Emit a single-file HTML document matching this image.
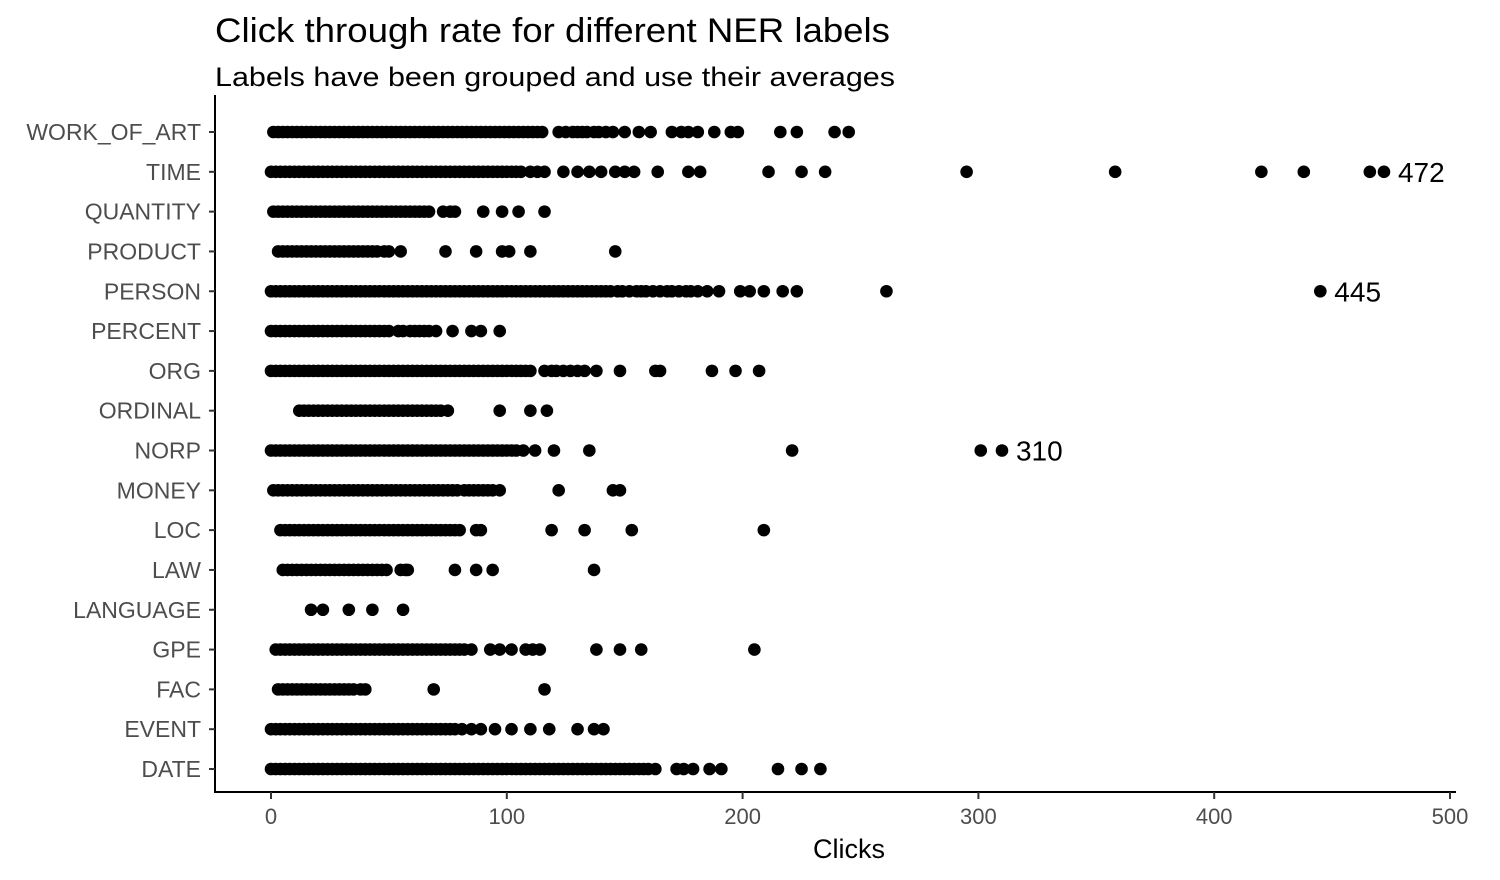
<!DOCTYPE html>
<html><head><meta charset="utf-8"><style>
body{margin:0;background:#fff;}
svg{display:block;font-family:"Liberation Sans",Arial,sans-serif;}
</style></head><body>
<svg id="chart" width="1500" height="880">
<text x="215" y="42" font-size="34" textLength="675" lengthAdjust="spacingAndGlyphs" fill="#000">Click through rate for different NER labels</text>
<text x="215" y="86" font-size="27" textLength="680" lengthAdjust="spacingAndGlyphs" fill="#000">Labels have been grouped and use their averages</text>
<line x1="215" y1="95" x2="215" y2="793" stroke="#000" stroke-width="2"/>
<line x1="214" y1="792" x2="1456" y2="792" stroke="#000" stroke-width="2"/>
<text x="849" y="858" font-size="27" text-anchor="middle">Clicks</text>
<g id="axes"></g><g id="points"></g>
</svg>
<script>
const categories=["WORK_OF_ART","TIME","QUANTITY","PRODUCT","PERSON","PERCENT","ORG","ORDINAL","NORP","MONEY","LOC","LAW","LANGUAGE","GPE","FAC","EVENT","DATE"];
const xTicks=[0,100,200,300,400,500];
const vWORK=[1,3,5,7,9,11,13,15,17,19,21,23,25,27,29,31,33,35,37,39,41,43,45,47,49,51,53,55,57,59,61,63,65,67,69,71,73,75,77,79,81,83,85,87,89,91,93,95,97,99,101,103,105,107,109,111,113,115,122,125,128,130,132,134,137,139,142,145,150,156,161,170,174,177,181,188,195,198,216,223,239,245];
const vTIME=[0,2,4,6,8,10,12,14,16,18,20,22,24,26,28,30,32,34,36,38,40,42,44,46,48,50,52,54,56,58,60,62,64,66,68,70,72,74,76,78,80,82,84,86,88,90,92,94,96,98,100,102,104,106,110,113,116,124,130,135,140,146,150,154,164,177,182,211,225,235,295,358,420,438,466,472];
const vQUANTITY=[1,3,5,7,9,11,13,15,17,19,21,23,25,27,29,31,33,35,37,39,41,43,45,47,49,51,53,55,57,59,61,63,65,67,73,76,78,90,98,105,116];
const vPRODUCT=[3,5,7,9,11,13,15,17,19,21,23,25,27,29,31,33,35,37,39,41,43,45,48,50,55,74,87,98,101,110,146];
const vPERSON=[0,2,4,6,8,10,12,14,16,18,20,22,24,26,28,30,32,34,36,38,40,42,44,46,48,50,52,54,56,58,60,62,64,66,68,70,72,74,76,78,80,82,84,86,88,90,92,94,96,98,100,102,104,106,108,110,112,114,116,118,120,122,124,126,128,130,132,134,136,138,140,142,144,147,149,152,155,157,159,162,165,168,170,173,176,178,181,185,190,199,203,209,217,223,261,445];
const vPERCENT=[0,2,4,6,8,10,12,14,16,18,20,22,24,26,28,30,32,34,36,38,40,42,44,46,48,50,54,56,59,61,63,65,67,70,77,85,89,97];
const vORG=[0,2,4,6,8,10,12,14,16,18,20,22,24,26,28,30,32,34,36,38,40,42,44,46,48,50,52,54,56,58,60,62,64,66,68,70,72,74,76,78,80,82,84,86,88,90,92,94,96,98,100,102,104,106,108,110,116,119,121,124,127,130,133,138,148,163,165,187,197,207];
const vORDINAL=[12,14,16,18,20,22,24,26,28,30,32,34,36,38,40,42,44,46,48,50,52,54,56,58,60,62,64,66,68,70,72,75,97,110,117];
const vNORP=[0,2,4,6,8,10,12,14,16,18,20,22,24,26,28,30,32,34,36,38,40,42,44,46,48,50,52,54,56,58,60,62,64,66,68,70,72,74,76,78,80,82,84,86,88,90,92,94,96,98,100,102,104,107,112,120,135,221,301,310];
const vMONEY=[1,3,5,7,9,11,13,15,17,19,21,23,25,27,29,31,33,35,37,39,41,43,45,47,49,51,53,55,57,59,61,63,65,67,69,71,73,75,77,79,82,84,86,88,90,92,94,97,122,145,148];
const vLOC=[4,6,8,10,12,14,16,18,20,22,24,26,28,30,32,34,36,38,40,42,44,46,48,50,52,54,56,58,60,62,64,66,68,70,72,74,76,78,80,87,89,119,133,153,209];
const vLAW=[5,7,9,11,13,15,17,19,21,23,25,27,29,31,33,35,37,39,41,43,45,47,49,55,57,58,78,87,94,137];
const vLANGUAGE=[17,22,33,43,56];
const vGPE=[2,4,6,8,10,12,14,16,18,20,22,24,26,28,30,32,34,36,38,40,42,44,46,48,50,52,54,56,58,60,62,64,66,68,70,72,74,76,78,80,82,85,93,97,102,108,111,114,138,148,157,205];
const vFAC=[3,5,7,9,11,13,15,17,19,21,23,25,27,29,31,33,35,38,40,69,116];
const vEVENT=[0,2,4,6,8,10,12,14,16,18,20,22,24,26,28,30,32,34,36,38,40,42,44,46,48,50,52,54,56,58,60,62,64,66,68,70,72,74,76,78,81,85,89,95,102,110,118,130,137,141];
const vDATE=[0,2,4,6,8,10,12,14,16,18,20,22,24,26,28,30,32,34,36,38,40,42,44,46,48,50,52,54,56,58,60,62,64,66,68,70,72,74,76,78,80,82,84,86,88,90,92,94,96,98,100,102,104,106,108,110,112,114,116,118,120,122,124,126,128,130,132,134,136,138,140,142,144,146,148,150,152,154,156,158,160,163,172,175,179,186,191,215,225,233];
const series=[vWORK,vTIME,vQUANTITY,vPRODUCT,vPERSON,vPERCENT,vORG,vORDINAL,vNORP,vMONEY,vLOC,vLAW,vLANGUAGE,vGPE,vFAC,vEVENT,vDATE];
const labelCats=["TIME","PERSON","NORP"];
const NS="http://www.w3.org/2000/svg";
const x=v=>271+v*(1450-271)/500;
const y=i=>132+i*(769-132)/16;
const axes=document.getElementById('axes'),pts=document.getElementById('points');
function mk(tag,attrs,parent){const e=document.createElementNS(NS,tag);for(const k in attrs)e.setAttribute(k,attrs[k]);parent.appendChild(e);return e;}
categories.forEach((c,i)=>{
  const t=mk('line',{x1:209,x2:215,y1:y(i),y2:y(i),stroke:'#333','stroke-width':2},axes);
  
  
  const l=mk('text',{x:201,y:y(i)+8,'font-size':23,'text-anchor':'end',fill:'#4d4d4d'},axes);
  l.textContent=c;
  
  
  series[i].forEach(v=>{
    const p=mk('circle',{cx:x(v),cy:y(i),r:6.3,fill:'#000'},pts);
    
    
  });
  if(labelCats.includes(c)){
    const m=Math.max(...series[i]);
    const a=mk('text',{x:x(m)+14,y:y(i)+10,'font-size':28,fill:'#000'},pts);
    a.textContent=String(m);
    
    
  }
});
xTicks.forEach(v=>{
  const t=mk('line',{x1:x(v),x2:x(v),y1:792,y2:799,stroke:'#333','stroke-width':2},axes);
  
  
  const l=mk('text',{x:x(v),y:824,'font-size':22,'text-anchor':'middle',fill:'#4d4d4d'},axes);
  l.textContent=v;
  
  
});
</script>
</body></html>
